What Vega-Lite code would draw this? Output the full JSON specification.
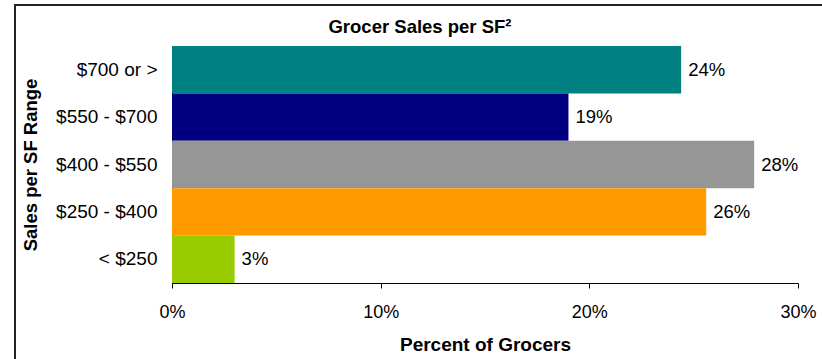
{
  "$schema": "https://vega.github.io/schema/vega-lite/v6.json",
  "autosize": "none",
  "padding": {"left": 15, "top": 5, "right": 0, "bottom": 0},
  "width": 810,
  "height": 360,
  "background": "white",
  "view": {"stroke": "#222222", "strokeWidth": 2},
  "title": {
    "text": "Grocer Sales per SF²",
    "fontSize": 18.5,
    "fontWeight": "bold",
    "font": "Liberation Sans",
    "color": "#000000",
    "anchor": "middle",
    "frame": "group",
    "offset": -31
  },
  "data": {
    "values": [
      {"range": "$700 or >", "pct": 0.244, "label": "24%"},
      {"range": "$550 - $700", "pct": 0.19, "label": "19%"},
      {"range": "$400 - $550", "pct": 0.279, "label": "28%"},
      {"range": "$250 - $400", "pct": 0.256, "label": "26%"},
      {"range": "< $250", "pct": 0.03, "label": "3%"}
    ]
  },
  "encoding": {
    "y": {
      "field": "range",
      "type": "nominal",
      "sort": ["$700 or >", "$550 - $700", "$400 - $550", "$250 - $400", "< $250"],
      "scale": {"range": [41, 278], "paddingInner": 0, "paddingOuter": 0},
      "axis": {
        "title": "Sales per SF Range",
        "offset": -157,
        "ticks": false,
        "labelPadding": 15,
        "labelFontSize": 19,
        "labelColor": "#000000",
        "titleFontSize": 18.5,
        "titleColor": "#000000",
        "titlePadding": 15,
        "domainColor": "#000000",
        "domainWidth": 1
      }
    },
    "x": {
      "field": "pct",
      "type": "quantitative",
      "scale": {"domain": [0, 0.3], "range": [157, 783], "nice": false, "zero": true},
      "axis": {
        "title": "Percent of Grocers",
        "offset": -82,
        "values": [0, 0.1, 0.2, 0.3],
        "format": ".0%",
        "grid": false,
        "tickSize": 5,
        "tickColor": "#000000",
        "domainColor": "#000000",
        "labelPadding": 15,
        "labelFontSize": 18,
        "labelColor": "#000000",
        "titleFontSize": 19,
        "titleColor": "#000000",
        "titlePadding": 14,
        "labelFlush": false
      }
    }
  },
  "layer": [
    {
      "mark": {"type": "bar"},
      "encoding": {
        "color": {
          "field": "range",
          "type": "nominal",
          "scale": {
            "domain": ["$700 or >", "$550 - $700", "$400 - $550", "$250 - $400", "< $250"],
            "range": ["#008080", "#000080", "#969696", "#FF9900", "#99CC00"]
          },
          "legend": null
        }
      }
    },
    {
      "mark": {"type": "text", "align": "left", "baseline": "middle", "dx": 7, "fontSize": 18.5, "color": "#000000"},
      "encoding": {"text": {"field": "label"}}
    }
  ],
  "config": {
    "font": "Liberation Sans",
    "axis": {"labelFont": "Liberation Sans", "titleFont": "Liberation Sans", "titleFontWeight": "bold"}
  }
}
